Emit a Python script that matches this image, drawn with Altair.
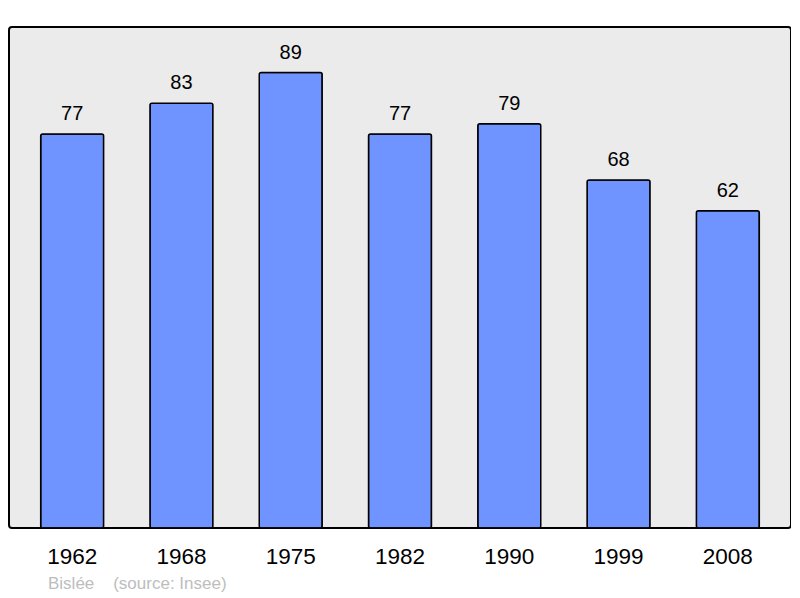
import altair as alt
import pandas as pd

years = ["1962", "1968", "1975", "1982", "1990", "1999", "2008"]
population = [77, 83, 89, 77, 79, 68, 62]
footer = ["Bislée\u00a0\u00a0\u00a0\u00a0(source: Insee)"]

df = pd.DataFrame({"year": years, "pop": population})
fdf = pd.DataFrame({"t": footer})

x = alt.X("year:N", sort=years, title=None,
          scale=alt.Scale(paddingInner=0.424, paddingOuter=0.29),
          axis=alt.Axis(domain=False, ticks=False, labelAngle=0, labelFontSize=22.5,
                        labelColor="#000000", labelFont="Liberation Sans",
                        labelPadding=28, labelBaseline="middle"))
y = alt.Y("pop:Q", title=None, scale=alt.Scale(domain=[0, 97.9], nice=False),
          axis=None)

bars = alt.Chart(df).mark_bar(color="#7094ff", stroke="#000000", strokeWidth=1.5,
                              cornerRadius=2).encode(x=x, y=y)
labels = alt.Chart(df).mark_text(baseline="bottom", dy=-10, fontSize=20,
                                 font="Liberation Sans", color="#000000").encode(
    x=alt.X("year:N", sort=years), y="pop:Q", text="pop:Q")
foot = alt.Chart(fdf).mark_text(align="left", baseline="middle", fontSize=17,
                                font="Liberation Sans", color="#bdbdbd").encode(
    x=alt.value(39), y=alt.value(557), text="t:N")

chart = alt.layer(bars, labels, foot).properties(
    width=782, height=501,
    autosize=alt.AutoSizeParams(type="none"),
    padding={"left": 1, "top": 19, "right": 0, "bottom": 70},
).configure_view(fill="#ebebeb", stroke="#000000", strokeWidth=2, cornerRadius=3)

chart.save("out.html", embed_options={"renderer": "svg", "actions": False})
